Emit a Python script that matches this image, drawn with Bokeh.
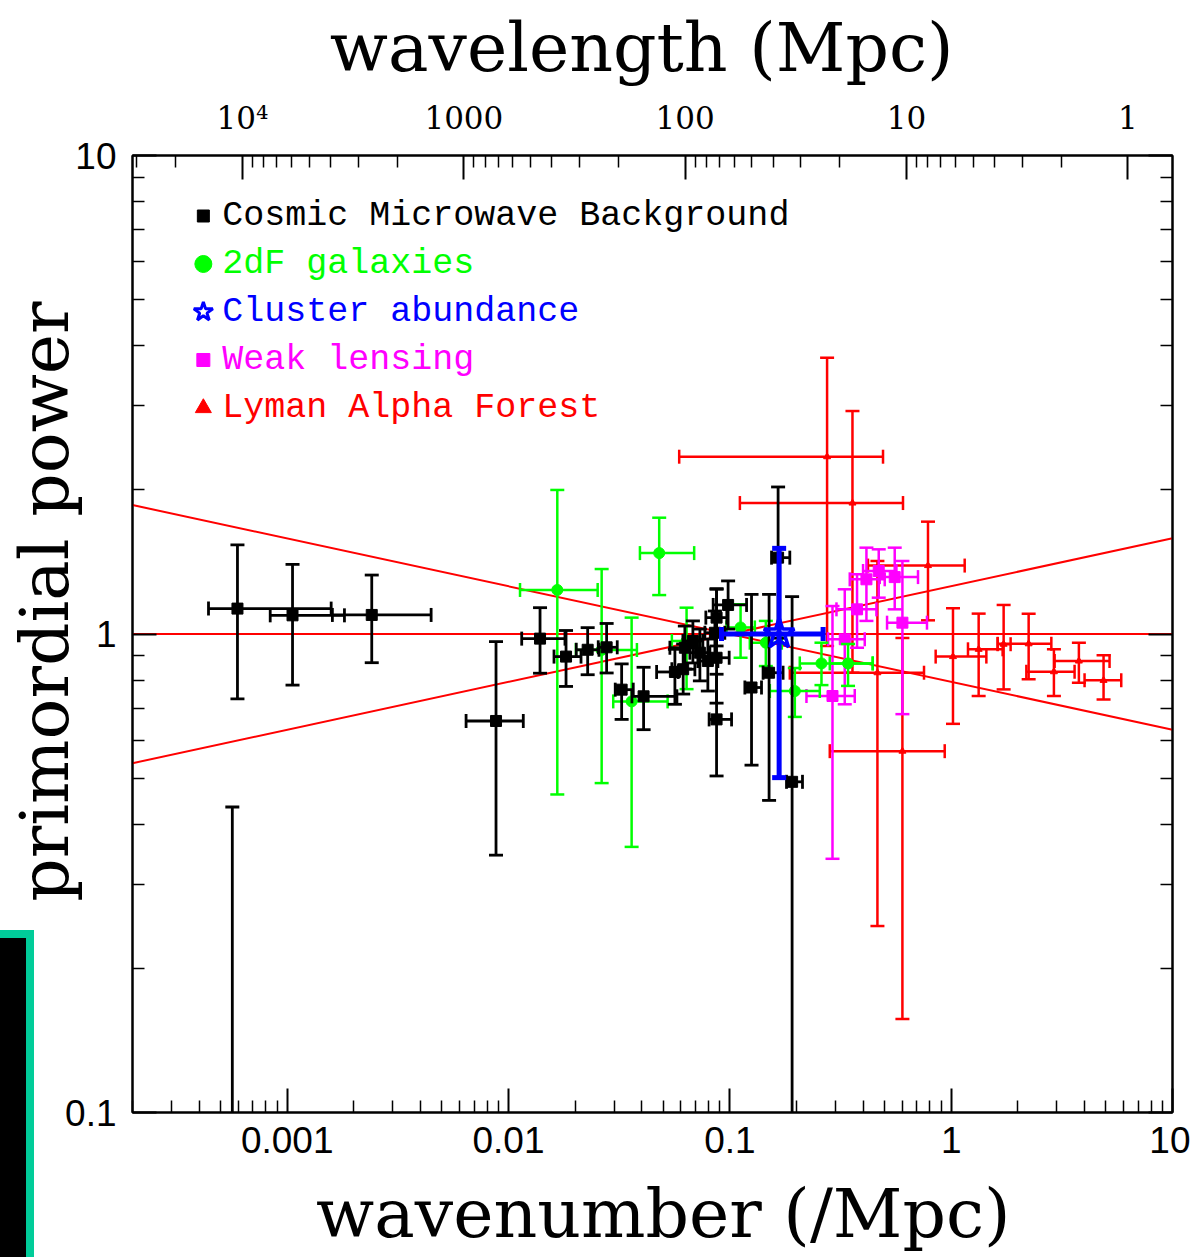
import math
from bokeh.plotting import figure
from bokeh.models import (ColumnDataSource, LogAxis, Range1d, LogScale, FixedTicker,
                          CustomJSTickFormatter)
from bokeh.core.properties import value
from bokeh.embed import file_html
from bokeh.resources import INLINE

# ---------------- data ----------------
# Cosmic Microwave Background
cmb_k   = [5.96e-4, 1.057e-3, 2.41e-3, 5.65e-4, 8.78e-3, 0.01388, 0.01819, 0.02278, 0.02775, 0.03244,
           0.04076, 0.05646, 0.06153, 0.06262, 0.07322, 0.06808, 0.07955, 0.08709, 0.08709, 0.0982,
           0.08709, 0.1253, 0.1504, 0.1652, 0.1911, 0.0856]
cmb_p   = [1.13, 1.094, 1.096, 0.05, 0.658, 0.978, 0.897, 0.927, 0.938, 0.765,
           0.741, 0.833, 0.844, 0.936, 0.914, 0.967, 0.878, 1.082, 0.892, 1.150,
           0.663, 0.773, 0.830, 1.444, 0.491, 1.006]
cmb_klo = [4.41e-4, 8.38e-4, 1.60e-3, 5.0e-4, 6.43e-3, 0.01147, 0.01605, 0.02023, 0.02543, 0.03035,
           0.03610, 0.04668, 0.0547, 0.05359, 0.06597, 0.06135, 0.0717, 0.0779, 0.0798, 0.08406,
           0.0806, 0.1169, 0.1413, 0.1543, 0.1803, 0.0771]
cmb_khi = [1.58e-3, 1.814e-3, 4.47e-3, 6.4e-4, 0.01166, 0.01799, 0.02126, 0.02562, 0.03099, 0.03661,
           0.05765, 0.05843, 0.0695, 0.07322, 0.08123, 0.07552, 0.0883, 0.0969, 0.0993, 0.119,
           0.1018, 0.139, 0.174, 0.1866, 0.2129, 0.0949]
cmb_plo = [0.732, 0.782, 0.871, 0.02, 0.345, 0.828, 0.777, 0.822, 0.829, 0.663,
           0.631, 0.713, 0.749, 0.845, 0.798, 0.870, 0.760, 0.944, 0.717, 1.024,
           0.505, 0.532, 0.449, 0.98, 0.05, 0.900]
cmb_phi = [1.535, 1.398, 1.328, 0.435, 0.964, 1.135, 1.017, 1.031, 1.052, 0.866,
           0.852, 0.929, 0.953, 1.039, 1.024, 1.065, 0.976, 1.240, 1.244, 1.291,
           0.824, 1.210, 1.210, 2.029, 1.197, 1.117]

# 2dF galaxies
gal_k   = [0.01661, 0.04795, 0.02635, 0.03599, 0.06374, 0.1118, 0.1454, 0.1966, 0.2594, 0.342]
gal_p   = [1.236, 1.476, 0.926, 0.723, 0.967, 1.032, 0.959, 0.760, 0.868, 0.868]
gal_klo = [0.01127, 0.03924, 0.02016, 0.02972, 0.0547, 0.0966, 0.1231, 0.1516, 0.207, 0.2828]
gal_khi = [0.02528, 0.06899, 0.03803, 0.05234, 0.07322, 0.1297, 0.1717, 0.2549, 0.4421, 0.4421]
gal_plo = [0.462, 1.206, 0.488, 0.359, 0.767, 0.892, 0.857, 0.671, 0.782, 0.779]
gal_phi = [2.0, 1.750, 1.367, 1.082, 1.135, 1.154, 1.065, 0.849, 0.959, 0.953]

# Cluster abundance
clu_k, clu_p = [0.167], [1.0]
clu_klo, clu_khi = [0.0917], [0.2638]
clu_plo, clu_phi = [0.501], [1.51]

# Weak lensing
wl_k   = [0.2909, 0.3305, 0.3756, 0.4141, 0.4706, 0.5558, 0.6021]
wl_p   = [0.742, 0.975, 1.126, 1.301, 1.354, 1.315, 1.056]
wl_klo = [0.2219, 0.2779, 0.3032, 0.3482, 0.3998, 0.4755, 0.5132]
wl_khi = [0.3667, 0.4069, 0.4595, 0.5009, 0.5657, 0.7082, 0.7775]
wl_plo = [0.339, 0.713, 0.936, 1.065, 1.191, 1.126, 0.680]
wl_phi = [1.144, 1.240, 1.333, 1.515, 1.503, 1.515, 1.421]

# Lyman Alpha Forest
ly_k   = [0.275, 0.3581, 0.4643, 0.7857, 0.6021, 1.019, 1.331, 1.726, 2.239, 2.912, 3.776, 4.881]
ly_p   = [2.347, 1.878, 0.830, 1.390, 0.569, 0.897, 0.929, 0.952, 0.954, 0.834, 0.878, 0.800]
ly_klo = [0.05904, 0.1110, 0.1866, 0.4209, 0.2828, 0.851, 1.191, 1.622, 1.622, 2.186, 2.933, 4.006]
ly_khi = [0.4921, 0.6058, 0.7538, 1.151, 0.935, 1.442, 1.708, 1.856, 2.835, 3.611, 5.195, 5.867]
ly_plo = [0.944, 0.830, 0.2453, 1.068, 0.1568, 0.649, 0.742, 0.766, 0.804, 0.742, 0.791, 0.730]
ly_phi = [3.779, 2.924, 1.421, 1.717, 0.981, 1.132, 1.103, 1.150, 1.103, 0.929, 0.959, 0.903]

# model power-law lines
model_k     = [2e-4, 10.0]
model_flat  = [1.0, 1.0]
model_up    = [0.537, 1.585]
model_down  = [1.86, 0.631]

# legend
legend_names   = ["Cosmic Microwave Background", "2dF galaxies", "Cluster abundance",
                  "Weak lensing", "Lyman Alpha Forest"]
legend_colors  = ["#000000", "#00ff00", "#0000ff", "#ff00ff", "#ff0000"]
legend_markers = ["square", "circle", "star", "square", "triangle"]
legend_sizes   = [12, 17, 20, 13, 16]
legend_marker_k = 4.18e-4
legend_text_k   = 5.09e-4
legend_rows_p   = [7.474, 5.933, 4.71, 3.738, 2.967]

# axis ticks
k_major = [0.001, 0.01, 0.1, 1, 10]
p_major = [0.1, 1, 10]
lam_major = [1, 10, 100, 1000, 10000]
mantissas = [2, 3, 4, 5, 6, 7, 8, 9]


def minor_list(e_lo, e_hi):
    return [m * 10.0 ** e for e in range(e_lo, e_hi) for m in mantissas]


# ---------------- figure ----------------
W, H = 1190, 1257
FL, FT, FR, FB = 132, 155, 1172, 1112
NB = "\u00a0"
p = figure(width=W, height=H, x_axis_type="log", y_axis_type="log",
           x_range=Range1d(2e-4, 10), y_range=Range1d(0.1, 10),
           output_backend="svg", toolbar_location=None,
           min_border_left=FL, min_border_right=W - FR, min_border_top=FT, min_border_bottom=H - FB,
           background_fill_color="white", border_fill_color=None)
# page decoration (black panel with teal edge at lower left) painted behind the transparent border
p.styles = {
    "background": ("linear-gradient(#000000, #000000) 0px 938px / 26px 330px no-repeat, "
                   "linear-gradient(#00cc99, #00cc99) 0px 930px / 34px 330px no-repeat, #ffffff")
}
p.xgrid.visible = False
p.ygrid.visible = False
p.outline_line_color = "black"
p.outline_line_width = 2

two_pi = 2 * math.pi
p.extra_x_ranges = {"lam": Range1d(start=two_pi / 2e-4, end=two_pi / 10.0)}
p.extra_x_scales = {"lam": LogScale()}

num_fmt = "return String(parseFloat(tick.toPrecision(6)));"

bottom = p.below[0]
left = p.left[0]
bottom.ticker = FixedTicker(ticks=k_major, minor_ticks=minor_list(-4, 1))
bottom.formatter = CustomJSTickFormatter(code=num_fmt)
left.ticker = FixedTicker(ticks=p_major, minor_ticks=minor_list(-1, 1))
left.formatter = CustomJSTickFormatter(code=num_fmt)

top_axis = LogAxis(x_range_name="lam",
                   ticker=FixedTicker(ticks=lam_major, minor_ticks=minor_list(0, 5)),
                   formatter=CustomJSTickFormatter(
                       code="return tick > 5000 ? '10\u2074' : String(Math.round(tick));"))
p.add_layout(top_axis, "above")
right_axis = LogAxis(ticker=FixedTicker(ticks=p_major, minor_ticks=minor_list(-1, 1)),
                     formatter=CustomJSTickFormatter(code=num_fmt))
right_axis.major_label_text_font_size = "1px"
right_axis.major_label_text_alpha = 0.0
right_axis.major_label_standoff = 0
p.add_layout(right_axis, "right")

for ax in [bottom, left, top_axis, right_axis]:
    ax.major_tick_in = 24
    ax.major_tick_out = 0
    ax.minor_tick_in = 12
    ax.minor_tick_out = 0
    ax.axis_line_width = 2
    ax.major_tick_line_width = 2
    ax.minor_tick_line_width = 1.5
    ax.axis_line_color = "black"
    ax.major_tick_line_color = "black"
    ax.minor_tick_line_color = "black"

for ax in [bottom, left]:
    ax.major_label_text_color = "black"
    ax.major_label_text_font = "Liberation Sans"
    ax.major_label_text_font_size = "37px"
    ax.major_label_standoff = 16
bottom.major_label_standoff = 14
top_axis.major_label_text_color = "black"
top_axis.major_label_text_font = "DejaVu Serif"
top_axis.major_label_text_font_size = "31px"
top_axis.major_label_standoff = 20

for ax, lab in [(bottom, NB + "wavenumber (/Mpc)"),
                (left, NB * 3 + "primordial power"),
                (top_axis, "wavelength (Mpc)" + NB)]:
    ax.axis_label = lab
    ax.axis_label_text_font = "DejaVu Serif"
    ax.axis_label_text_font_size = "68px"
    ax.axis_label_text_font_style = "normal"
    ax.axis_label_text_color = "black"
left.axis_label_standoff = -22
bottom.axis_label_standoff = 18
top_axis.axis_label_standoff = 10

# model lines
for vals in [model_flat, model_up, model_down]:
    p.line(model_k, vals, line_color="#ff0000", line_width=2)


def errbars(k, pp, klo, khi, plo, phi, color, lw, cap, marker, msize, fill=True):
    src = ColumnDataSource(dict(k=k, p=pp, klo=klo, khi=khi, plo=plo, phi=phi))
    p.segment(x0="k", y0="plo", x1="k", y1="phi", source=src, line_color=color, line_width=lw)
    p.segment(x0="klo", y0="p", x1="khi", y1="p", source=src, line_color=color, line_width=lw)
    for col in ["plo", "phi"]:
        p.scatter(x="k", y=col, source=src, marker="dash", size=cap, line_color=color, line_width=lw)
    for col in ["klo", "khi"]:
        p.scatter(x=col, y="p", source=src, marker="dash", size=cap, angle=math.pi / 2,
                  line_color=color, line_width=lw)
    if fill:
        p.scatter(x="k", y="p", source=src, marker=marker, size=msize,
                  fill_color=color, line_color=color)
    else:
        p.scatter(x="k", y="p", source=src, marker=marker, size=msize,
                  fill_color=None, line_color=color, line_width=3.5)


errbars(ly_k, ly_p, ly_klo, ly_khi, ly_plo, ly_phi, "#ff0000", 2.5, 14, "triangle", 7)
errbars(wl_k, wl_p, wl_klo, wl_khi, wl_plo, wl_phi, "#ff00ff", 2.5, 14, "square", 11)
errbars(gal_k, gal_p, gal_klo, gal_khi, gal_plo, gal_phi, "#00ff00", 2.5, 14, "circle", 11)
errbars(cmb_k, cmb_p, cmb_klo, cmb_khi, cmb_plo, cmb_phi, "#000000", 2.8, 14, "square", 11)
errbars(clu_k, clu_p, clu_klo, clu_khi, clu_plo, clu_phi, "#0000ff", 5, 14, "star", 32, fill=False)

# legend
for name, col, mk, sz, py in zip(legend_names, legend_colors, legend_markers, legend_sizes, legend_rows_p):
    if mk == "star":
        p.scatter([legend_marker_k], [py], marker=mk, size=sz, fill_color=None,
                  line_color=col, line_width=3)
    else:
        p.scatter([legend_marker_k], [py], marker=mk, size=sz, fill_color=col, line_color=col)
p.text(x=[legend_text_k] * len(legend_names), y=legend_rows_p, text=legend_names,
       text_color=legend_colors, text_font=value("Liberation Mono"), text_font_size="35px",
       text_baseline="middle", text_align="left")

open("out.html", "w").write(file_html(p, INLINE))
